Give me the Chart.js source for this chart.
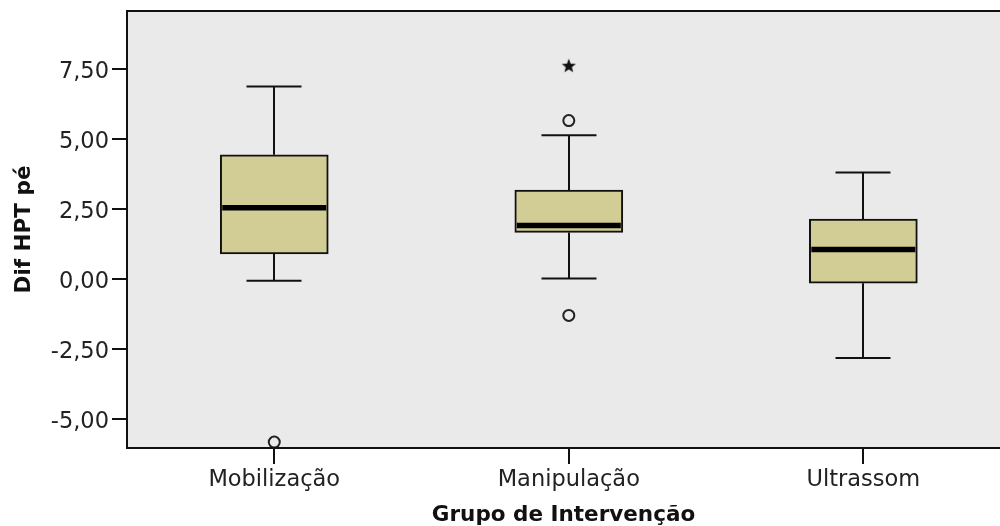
<!DOCTYPE html>
<html>
<head>
<meta charset="utf-8">
<script src="https://cdn.jsdelivr.net/npm/chart.js@4.4.0/dist/chart.umd.min.js"></script>
<style>
  body { margin: 0; background: #fff; }
</style>
</head>
<body>
<canvas id="myChart" width="1000" height="526"></canvas>
<script>
// box plot values
const groups = ["Mobilização", "Manipulação", "Ultrassom"];
const whiskerLow = [-0.06, 0.02, -2.82];
const q1 = [0.89, 1.66, -0.15];
const median = [2.54, 1.91, 1.05];
const q3 = [4.43, 3.17, 2.14];
const whiskerHigh = [6.87, 5.13, 3.80];

// outliers (circles) and extreme values (star)
const outlierGroup = [1, 2, 2];
const outlierValue = [-5.82, 5.65, -1.30];
const extremeGroup = [2];
const extremeValue = [7.61];

const yTicks = [-5, -2.5, 0, 2.5, 5, 7.5];

// filled star for the extreme value marker
function makeStar() {
  const c = document.createElement("canvas");
  c.width = 16;
  c.height = 16;
  const g = c.getContext("2d");
  g.beginPath();
  for (let i = 0; i < 10; i++) {
    const r = i % 2 === 0 ? 7.5 : 3.2;
    const a = -Math.PI / 2 + (i * Math.PI) / 5;
    const px = 8 + r * Math.cos(a);
    const py = 8.5 + r * Math.sin(a);
    if (i === 0) g.moveTo(px, py);
    else g.lineTo(px, py);
  }
  g.closePath();
  g.fillStyle = "#111";
  g.fill();
  return c;
}

// no extra room around the scales, the plot area is fixed
function noPadding(scale) {
  scale.paddingTop = 0;
  scale.paddingBottom = 0;
  scale.paddingLeft = 0;
  scale.paddingRight = 0;
}

// plot background, whiskers, medians and frame
const boxPlugin = {
  id: "boxParts",
  beforeDraw(chart) {
    const { ctx, chartArea } = chart;
    ctx.save();
    ctx.fillStyle = "#eaeaea";
    ctx.fillRect(chartArea.left, chartArea.top, chartArea.right - chartArea.left, chartArea.bottom - chartArea.top);
    ctx.restore();
  },
  beforeDatasetsDraw(chart) {
    const { ctx } = chart;
    const x = chart.scales.x;
    const y = chart.scales.y;
    ctx.save();
    ctx.strokeStyle = "#111";
    ctx.lineWidth = 2;
    for (let i = 0; i < groups.length; i++) {
      const cx = Math.round(x.getPixelForValue(i + 1));
      ctx.beginPath();
      ctx.moveTo(cx, y.getPixelForValue(whiskerHigh[i]));
      ctx.lineTo(cx, y.getPixelForValue(q3[i]));
      ctx.moveTo(cx, y.getPixelForValue(q1[i]));
      ctx.lineTo(cx, y.getPixelForValue(whiskerLow[i]));
      ctx.moveTo(cx - 27.5, y.getPixelForValue(whiskerHigh[i]));
      ctx.lineTo(cx + 27.5, y.getPixelForValue(whiskerHigh[i]));
      ctx.moveTo(cx - 27.5, y.getPixelForValue(whiskerLow[i]));
      ctx.lineTo(cx + 27.5, y.getPixelForValue(whiskerLow[i]));
      ctx.stroke();
    }
    ctx.restore();
  },
  afterDatasetsDraw(chart) {
    const { ctx } = chart;
    const x = chart.scales.x;
    const y = chart.scales.y;
    ctx.save();
    ctx.strokeStyle = "#000";
    ctx.lineWidth = 5.5;
    for (let i = 0; i < groups.length; i++) {
      const cx = x.getPixelForValue(i + 1);
      const my = y.getPixelForValue(median[i]);
      ctx.beginPath();
      ctx.moveTo(cx - 52, my);
      ctx.lineTo(cx + 52, my);
      ctx.stroke();
    }
    ctx.restore();
  },
  afterDraw(chart) {
    const { ctx, chartArea } = chart;
    ctx.save();
    ctx.strokeStyle = "#111";
    ctx.lineWidth = 2;
    ctx.beginPath();
    ctx.moveTo(chartArea.right + 5, chartArea.top);
    ctx.lineTo(chartArea.left, chartArea.top);
    ctx.lineTo(chartArea.left, chartArea.bottom);
    ctx.lineTo(chartArea.right + 5, chartArea.bottom);
    ctx.stroke();
    ctx.restore();
  }
};

const tickFont = { family: "DejaVu Sans", size: 22.5 };
const titleFont = { family: "DejaVu Sans", size: 21.5, weight: "bold" };

const ctx = document.getElementById("myChart").getContext("2d");
new Chart(ctx, {
  type: "bar",
  data: {
    datasets: [
      {
        label: "Caixa",
        data: groups.map((g, i) => ({ x: i + 1, y: [q1[i], q3[i]] })),
        backgroundColor: "#d1cd95",
        borderColor: "#111",
        borderWidth: 2,
        borderSkipped: false,
        barThickness: 108,
        order: 2
      },
      {
        type: "scatter",
        label: "Outliers",
        data: outlierGroup.map((g, i) => ({ x: g, y: outlierValue[i] })),
        pointStyle: "circle",
        pointRadius: 5.5,
        borderWidth: 2,
        borderColor: "#222",
        backgroundColor: "rgba(0,0,0,0)",
        order: 1
      },
      {
        type: "scatter",
        label: "Extremos",
        data: extremeGroup.map((g, i) => ({ x: g, y: extremeValue[i] })),
        pointStyle: makeStar(),
        order: 1
      }
    ]
  },
  options: {
    responsive: false,
    animation: false,
    layout: { autoPadding: false, padding: { top: 11, left: 0, right: 0, bottom: 0 } },
    plugins: {
      legend: { display: false },
      tooltip: { enabled: false }
    },
    scales: {
      x: {
        type: "linear",
        min: 0.5,
        max: 3.464,
        offset: false,
        afterFit: (scale) => {
          scale.height = 78;
          noPadding(scale);
        },
        afterBuildTicks: (scale) => {
          scale.ticks = groups.map((g, i) => ({ value: i + 1 }));
        },
        ticks: {
          autoSkip: false,
          maxRotation: 0,
          padding: 3,
          color: "#222",
          font: tickFont,
          callback: (value) => groups[value - 1]
        },
        grid: {
          offset: false,
          drawOnChartArea: false,
          drawTicks: true,
          tickLength: 16,
          color: "#111",
          lineWidth: 2
        },
        border: { display: false },
        title: {
          display: true,
          text: "Grupo de Intervenção",
          color: "#111",
          font: titleFont,
          padding: { top: 0, bottom: -2 }
        }
      },
      y: {
        min: -6.03,
        max: 9.56,
        afterFit: (scale) => {
          scale.width = 127;
          noPadding(scale);
        },
        afterBuildTicks: (scale) => {
          scale.ticks = yTicks.map((v) => ({ value: v }));
        },
        ticks: {
          padding: 3,
          labelOffset: 3,
          color: "#222",
          font: tickFont,
          callback: (value) => value.toFixed(2).replace(".", ",")
        },
        grid: {
          drawOnChartArea: false,
          drawTicks: true,
          tickLength: 15,
          color: "#111",
          lineWidth: 2
        },
        border: { display: false },
        title: {
          display: true,
          text: "Dif HPT pé",
          color: "#111",
          font: titleFont,
          padding: { top: 12, bottom: 0 }
        }
      }
    }
  },
  plugins: [boxPlugin]
});
</script>
</body>
</html>
